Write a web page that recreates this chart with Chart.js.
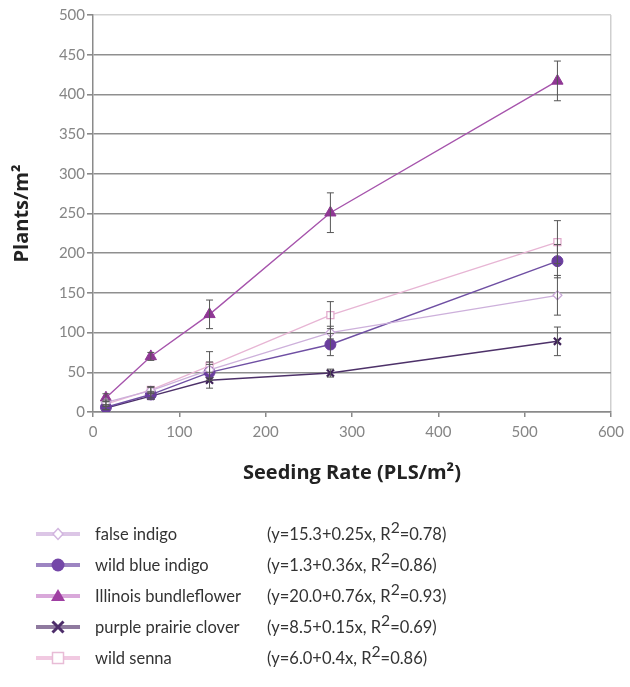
<!DOCTYPE html>
<html>
<head>
<meta charset="utf-8">
<script src="https://cdn.jsdelivr.net/npm/chart.js@4.4.1/dist/chart.umd.min.js"></script>
<style>
  html, body { margin: 0; padding: 0; background: #fff; }
  body { width: 630px; height: 687px; position: relative; overflow: hidden; font-family: Lato, 'Open Sans', sans-serif; }
  #wrap { position: absolute; left: 0; top: 0; width: 630px; height: 500px; }
  #legend { position: absolute; left: 0; top: 0; width: 630px; height: 687px; }
  .row { position: absolute; left: 0; height: 24px; width: 630px; color: #333; font-size: 16.5px; line-height: 24px; }
  .row svg { position: absolute; left: 36px; top: 2px; }
  .row .name { position: absolute; left: 95px; top: 0; }
  .row .eq { position: absolute; left: 267px; top: 0; }
  .row sup { font-size: 0.95em; line-height: 0; vertical-align: 0.42em; }
</style>
</head>
<body>
<div id="wrap"><canvas id="c" width="630" height="500"></canvas></div>
<div id="legend"></div>
<script>
// ---- data ----
const seedingRates = [15, 67, 135, 275, 538];
const seriesNames = ["false indigo", "wild blue indigo", "Illinois bundleflower", "purple prairie clover", "wild senna"];
const equations = ["(y=15.3+0.25x, R2=0.78)", "(y=1.3+0.36x, R2=0.86)", "(y=20.0+0.76x, R2=0.93)", "(y=8.5+0.15x, R2=0.69)", "(y=6.0+0.4x, R2=0.86)"];
const falseIndigo = [12, 27, 53, 100, 147];
const wildBlueIndigo = [6, 22, 50, 85, 190];
const illinoisBundleflower = [18, 70, 123, 251, 417];
const purplePrairieClover = [5, 20, 40, 49, 89];
const wildSenna = [10, 28, 58, 122, 214];
const falseIndigoErr = [3, 4, 10, 8, 25];
const wildBlueIndigoErr = [3, 4, 10, 14, 21];
const illinoisBundleflowerErr = [5, 5, 18, 25, 25];
const purplePrairieCloverErr = [2, 4, 10, 5, 18];
const wildSennaErr = [3, 4, 18, 17, 27];
const yTicks = [0, 50, 100, 150, 200, 250, 300, 350, 400, 450, 500];
const xTicks = [0, 100, 200, 300, 400, 500, 600];

const values = [falseIndigo, wildBlueIndigo, illinoisBundleflower, purplePrairieClover, wildSenna];
const errors = [falseIndigoErr, wildBlueIndigoErr, illinoisBundleflowerErr, purplePrairieCloverErr, wildSennaErr];

const styles = [
  { line: '#cdb0db', fill: '#ffffff', border: '#c7a6d6', shape: 'rectRot', r: 4.5, bw: 1.2, lw: 1.3,
    lgLine: '#dcc6e6', lgFill: '#fff', lgBorder: '#d2b6df' },
  { line: '#6f4fa3', fill: '#6a3d9e', border: '#6a3d9e', shape: 'circle', r: 5.5, bw: 1, lw: 1.4,
    lgLine: '#9d85c2', lgFill: '#7447a8', lgBorder: '#7447a8' },
  { line: '#a654ac', fill: '#8f3794', border: '#8f3794', shape: 'triangle', r: 6.5, bw: 1, lw: 1.4,
    lgLine: '#d9a8da', lgFill: '#9f3fa2', lgBorder: '#9f3fa2' },
  { line: '#4d3169', fill: '#3e2258', border: '#3e2258', shape: 'crossRot', r: 5, bw: 2.2, lw: 1.5,
    lgLine: '#8f7a9f', lgFill: '#4d2d6a', lgBorder: '#4d2d6a' },
  { line: '#e7b5d4', fill: '#ffffff', border: '#e0a8cb', shape: 'rect', r: 5, bw: 1.2, lw: 1.3,
    lgLine: '#f1c9e1', lgFill: '#fff', lgBorder: '#e8bcd6' }
];

const datasets = seriesNames.map((name, i) => ({
  label: name,
  data: seedingRates.map((x, j) => ({ x: x, y: values[i][j] })),
  errs: errors[i],
  borderColor: styles[i].line,
  borderWidth: styles[i].lw,
  backgroundColor: styles[i].fill,
  pointStyle: styles[i].shape,
  pointRadius: styles[i].r,
  pointBackgroundColor: styles[i].fill,
  pointBorderColor: styles[i].border,
  pointBorderWidth: styles[i].bw,
  showLine: true,
  tension: 0,
  fill: false
}));

const errorBars = {
  id: 'errorBars',
  afterDatasetsDraw(chart) {
    const ctx = chart.ctx;
    const xs = chart.scales.x, ys = chart.scales.y;
    ctx.save();
    ctx.strokeStyle = '#555';
    ctx.lineWidth = 1;
    chart.data.datasets.forEach(ds => {
      ds.data.forEach((p, j) => {
        const e = ds.errs[j];
        const px = xs.getPixelForValue(p.x);
        const top = ys.getPixelForValue(p.y + e);
        const bot = ys.getPixelForValue(p.y - e);
        ctx.beginPath();
        ctx.moveTo(px, top); ctx.lineTo(px, bot);
        ctx.moveTo(px - 3.5, top); ctx.lineTo(px + 3.5, top);
        ctx.moveTo(px - 3.5, bot); ctx.lineTo(px + 3.5, bot);
        ctx.stroke();
      });
    });
    ctx.restore();
  }
};

Chart.defaults.font.family = "Lato, 'Open Sans', sans-serif";

new Chart(document.getElementById('c'), {
  type: 'scatter',
  data: { datasets: datasets },
  plugins: [errorBars],
  options: {
    responsive: false,
    animation: false,
    layout: { padding: { top: 15, right: 18, bottom: 0, left: 0 } },
    plugins: { legend: { display: false }, tooltip: { enabled: false } },
    scales: {
      x: {
        type: 'linear', min: 0, max: 600,
        afterBuildTicks: s => { s.ticks = xTicks.map(v => ({ value: v })); },
        afterFit: s => { s.height = 88; },
        ticks: { color: '#858585', font: { size: 15 }, padding: 6 },
        grid: {
          color: c => (c.tick && c.tick.value === 600) ? '#cfcfcf' : 'rgba(0,0,0,0)',
          lineWidth: 1.5,
          tickColor: '#8a8a8a', tickLength: 5, drawTicks: true
        },
        border: { display: true, color: '#8a8a8a', width: 1.5 },
        title: {
          display: true, text: 'Seeding Rate (PLS/m²)', color: '#222',
          font: { size: 20, weight: 'bold', family: "'Open Sans', Lato, sans-serif" },
          padding: { top: 0, bottom: 15 }
        }
      },
      y: {
        type: 'linear', min: 0, max: 500,
        afterBuildTicks: s => { s.ticks = yTicks.map(v => ({ value: v })); },
        afterFit: s => { s.width = 93; },
        ticks: { color: '#858585', font: { size: 15 }, padding: 2 },
        grid: {
          color: c => (c.tick && c.tick.value === 500) ? '#d2d2d2' : '#8f8f8f',
          lineWidth: 1.6,
          tickColor: '#8a8a8a', tickLength: 6, drawTicks: true
        },
        border: { display: true, color: '#8a8a8a', width: 1.5 },
        title: {
          display: true, text: 'Plants/m²', color: '#222',
          font: { size: 20, weight: 'bold', family: "'Open Sans', Lato, sans-serif" },
          padding: { top: 10, bottom: 0 }
        }
      }
    }
  }
});

// ---- legend ----
function markerSvg(st) {
  const cx = 22, cy = 10;
  let m = '';
  if (st.shape === 'rectRot') m = `<polygon points="${cx},${cy-5.5} ${cx+5},${cy} ${cx},${cy+5.5} ${cx-5},${cy}" fill="${st.lgFill}" stroke="${st.lgBorder}" stroke-width="1.5"/>`;
  else if (st.shape === 'circle') m = `<circle cx="${cx}" cy="${cy}" r="6.5" fill="${st.lgFill}"/>`;
  else if (st.shape === 'triangle') m = `<polygon points="${cx},${cy-7} ${cx+7},${cy+5} ${cx-7},${cy+5}" fill="${st.lgFill}"/>`;
  else if (st.shape === 'crossRot') m = `<path d="M${cx-5.5},${cy-5.5}L${cx+5.5},${cy+5.5}M${cx+5.5},${cy-5.5}L${cx-5.5},${cy+5.5}" stroke="${st.lgBorder}" stroke-width="3"/>`;
  else if (st.shape === 'rect') m = `<rect x="${cx-5.5}" y="${cy-5.5}" width="11" height="11" fill="${st.lgFill}" stroke="${st.lgBorder}" stroke-width="1.5"/>`;
  return `<svg width="44" height="20"><line x1="0" y1="10" x2="44" y2="10" stroke="${st.lgLine}" stroke-width="4"/>${m}</svg>`;
}
const lg = document.getElementById('legend');
const rowCenters = [534, 565, 596, 627, 658];
seriesNames.forEach((name, i) => {
  const r = document.createElement('div');
  r.className = 'row';
  r.style.top = (rowCenters[i] - 12) + 'px';
  const eq = equations[i].replace('R2', 'R<sup>2</sup>');
  r.innerHTML = markerSvg(styles[i]) + `<span class="name">${name}</span><span class="eq">${eq}</span>`;
  lg.appendChild(r);
});
</script>
</body>
</html>
